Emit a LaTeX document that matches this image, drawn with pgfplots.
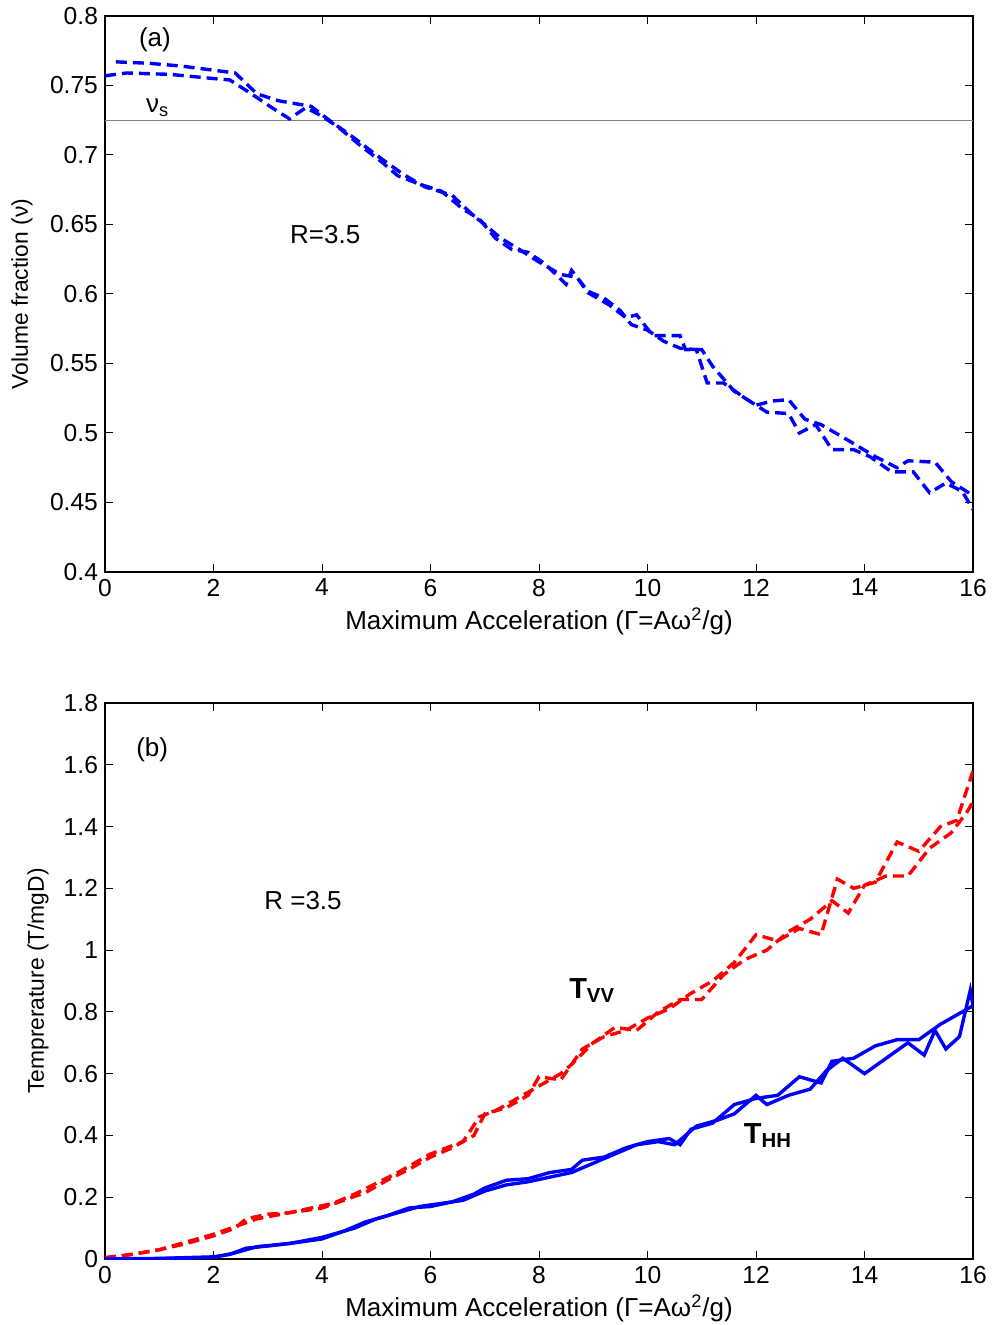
\documentclass[border=0pt]{standalone}
\usepackage{fontspec}
\setmainfont{Liberation Sans}
\usepackage{pgfplots}
\pgfplotsset{compat=1.18}
\definecolor{mblue}{RGB}{0,0,255}
\definecolor{mred}{RGB}{255,0,0}
\pgfplotsset{panel/.style={
  scale only axis, width=434pt, height=278pt,
  xmin=0, xmax=16, xtick={0,2,...,16},
  tick align=inside, major tick length=4pt,
  axis line style={line width=0.7pt},
  every tick/.style={black, line width=0.5pt},
  /pgf/number format/assume math mode=true,
  tick label style={font=\fontsize{12.3}{14}\selectfont},
  xlabel style={font=\fontsize{13}{15}\selectfont},
  ylabel style={font=\fontsize{11.4}{13}\selectfont},
  xlabel={Maximum Acceleration (Γ=Aω\textsuperscript{2}/g)},
  xlabel style={at={(axis description cs:0.5,0)}, anchor=center, yshift=-24.5pt},
  clip=true,
}}
\begin{document}
\begin{tikzpicture}
\path[use as bounding box] (-52.5pt,8pt) rectangle (445.5pt,-654.5pt);
% ---------- panel (a)
\begin{axis}[panel, at={(0,0)}, anchor=north west,
  ymin=0.4, ymax=0.8, ytick={0.4,0.45,...,0.8},
  yticklabels={0.4,0.45,0.5,0.55,0.6,0.65,0.7,0.75,0.8},
  ylabel={Volume fraction (ν)},
  ylabel style={at={(axis description cs:0,0.5)}, anchor=center, yshift=41.5pt},
]
\addplot[gray, line width=0.6pt] coordinates {(0,0.725) (16,0.725)};
\addplot[mblue, line width=1.7pt, dash pattern=on 5.5pt off 3pt] coordinates {
(0.2,0.767) (0.8,0.766) (1.4,0.764) (2.0,0.761) (2.4,0.759) (2.8,0.744) (3.2,0.739)
(3.8,0.735) (4.1,0.726) (4.6,0.712) (5.0,0.700) (5.5,0.686) (5.9,0.677) (6.4,0.671)
(6.8,0.656) (7.0,0.650) (7.3,0.640) (7.6,0.633) (8.0,0.623) (8.4,0.614) (8.7,0.612)
(8.9,0.601) (9.3,0.592) (9.6,0.583) (9.8,0.585) (10.1,0.570) (10.6,0.570) (10.7,0.560)
(11.0,0.560) (11.2,0.548) (11.6,0.530) (12.0,0.520) (12.3,0.523) (12.6,0.524) (12.9,0.510)
(13.2,0.506) (13.6,0.497) (13.9,0.490) (14.2,0.483) (14.6,0.475) (14.8,0.480) (15.3,0.479)
(15.6,0.465) (16.0,0.455)};
\addplot[mblue, line width=1.7pt, dash pattern=on 5.5pt off 3pt] coordinates {
(0.0,0.757) (0.4,0.759) (1.2,0.758) (2.0,0.755) (2.3,0.754) (2.7,0.744) (3.0,0.736)
(3.4,0.726) (3.7,0.734) (4.0,0.728) (4.3,0.720) (4.7,0.707) (5.1,0.695) (5.4,0.685)
(5.8,0.679) (6.2,0.674) (6.6,0.661) (6.9,0.654) (7.2,0.640) (7.5,0.632) (7.8,0.630)
(8.1,0.622) (8.5,0.607) (8.6,0.617) (8.9,0.602) (9.2,0.597) (9.5,0.588) (9.7,0.578)
(10.0,0.574) (10.3,0.566) (10.6,0.561) (10.9,0.560) (11.1,0.536) (11.4,0.536) (11.8,0.525)
(12.2,0.515) (12.6,0.514) (12.8,0.500) (13.1,0.506) (13.4,0.488) (13.8,0.488) (14.1,0.483)
(14.5,0.472) (14.9,0.472) (15.2,0.457) (15.5,0.464) (15.8,0.458) (16.0,0.445)};
\node[font=\fontsize{13}{15}\selectfont] at (axis cs:0.92,0.783) {(a)};
\node[font=\fontsize{13}{15}\selectfont] at (axis cs:0.97,0.734) {ν\textsubscript{s}};
\node[font=\fontsize{13}{15}\selectfont] at (axis cs:4.06,0.643) {R=3.5};
\end{axis}
% ---------- panel (b)
\begin{axis}[panel, at={(0,-343.5pt)}, anchor=north west,
  ymin=0, ymax=1.8, ytick={0,0.2,...,1.8},
  yticklabels={0,0.2,0.4,0.6,0.8,1,1.2,1.4,1.6,1.8},
  ylabel={Temprerature (T/mgD)},
  ylabel style={at={(axis description cs:0,0.5)}, anchor=center, yshift=33.5pt},
]
\addplot[mred, line width=1.7pt, dash pattern=on 5.5pt off 3pt] coordinates {
(0,0.005) (0.5,0.015) (1.0,0.03) (1.5,0.05) (2.0,0.075) (2.4,0.10) (2.6,0.13) (3.0,0.145)
(3.4,0.15) (4.0,0.165) (4.4,0.19) (4.8,0.215) (5.2,0.255) (5.6,0.29) (6.0,0.33) (6.4,0.36)
(6.8,0.40) (7.0,0.47) (7.4,0.49) (7.8,0.53) (8.0,0.59) (8.4,0.58) (8.8,0.68) (9.2,0.72)
(9.6,0.74) (10.0,0.78) (10.4,0.81) (10.8,0.86) (11.2,0.90) (11.6,0.96) (12.0,1.05) (12.4,1.03)
(12.8,1.07) (13.2,1.05) (13.5,1.23) (13.8,1.20) (14.2,1.22) (14.6,1.35) (15.0,1.32) (15.4,1.40)
(15.7,1.42) (16.0,1.58)};
\addplot[mred, line width=1.7pt, dash pattern=on 5.5pt off 3pt] coordinates {
(0,0.0) (1,0.03) (2,0.08) (2.8,0.13) (3.4,0.15) (4.2,0.18) (4.6,0.21) (5.4,0.28) (6.0,0.34)
(6.6,0.38) (6.9,0.46) (7.2,0.48) (7.6,0.52) (8.0,0.56) (8.4,0.60) (8.6,0.63) (9.0,0.70)
(9.4,0.75) (9.8,0.74) (10.2,0.80) (10.6,0.84) (11.0,0.84) (11.4,0.92) (11.8,0.97) (12.2,1.00)
(12.6,1.06) (13.0,1.10) (13.4,1.16) (13.7,1.12) (14.0,1.21) (14.4,1.24) (14.8,1.24) (15.2,1.33)
(15.6,1.38) (15.9,1.45) (16.0,1.48)};
\addplot[mblue, line width=1.7pt] coordinates {
(0,0) (1,0.002) (2,0.007) (2.3,0.015) (2.6,0.035) (3.0,0.042) (3.6,0.055) (4.0,0.065)
(4.4,0.09) (4.8,0.12) (5.2,0.14) (5.6,0.165) (6.0,0.17) (6.4,0.185) (6.8,0.21) (7.0,0.23)
(7.4,0.255) (7.8,0.26) (8.2,0.28) (8.6,0.29) (8.8,0.32) (9.2,0.33) (9.6,0.36) (10.0,0.38)
(10.4,0.39) (10.6,0.37) (10.8,0.42) (11.2,0.44) (11.6,0.50) (12.0,0.52) (12.4,0.53) (12.8,0.59)
(13.2,0.57) (13.4,0.64) (13.8,0.65) (14.2,0.69) (14.6,0.71) (15.0,0.71) (15.4,0.76) (15.8,0.80)
(16.0,0.82)};
\addplot[mblue, line width=1.7pt] coordinates {
(0,0) (1,0.001) (2,0.005) (2.4,0.02) (2.8,0.04) (3.4,0.05) (4.0,0.07) (4.6,0.10) (5.0,0.13)
(5.4,0.15) (5.8,0.17) (6.2,0.18) (6.6,0.19) (7.0,0.22) (7.4,0.24) (7.8,0.25) (8.2,0.265)
(8.6,0.28) (9.0,0.31) (9.4,0.34) (9.8,0.37) (10.2,0.38) (10.5,0.37) (10.9,0.43) (11.3,0.45)
(11.6,0.47) (12.0,0.53) (12.2,0.50) (12.6,0.53) (13.0,0.55) (13.3,0.61) (13.6,0.65) (14.0,0.60)
(14.4,0.65) (14.8,0.70) (15.1,0.66) (15.3,0.74) (15.5,0.68) (15.75,0.72) (15.95,0.87) (16.0,0.82)};
\node[font=\fontsize{13}{15}\selectfont] at (axis cs:0.87,1.648) {(b)};
\node[font=\fontsize{13}{15}\selectfont] at (axis cs:3.65,1.162) {R =3.5};
\node[font=\fontsize{14.5}{17}\selectfont\bfseries] at (axis cs:8.98,0.87) {T\textsubscript{VV}};
\node[font=\fontsize{14.5}{17}\selectfont\bfseries] at (axis cs:12.22,0.40) {T\textsubscript{HH}};
\end{axis}
\end{tikzpicture}
\end{document}
